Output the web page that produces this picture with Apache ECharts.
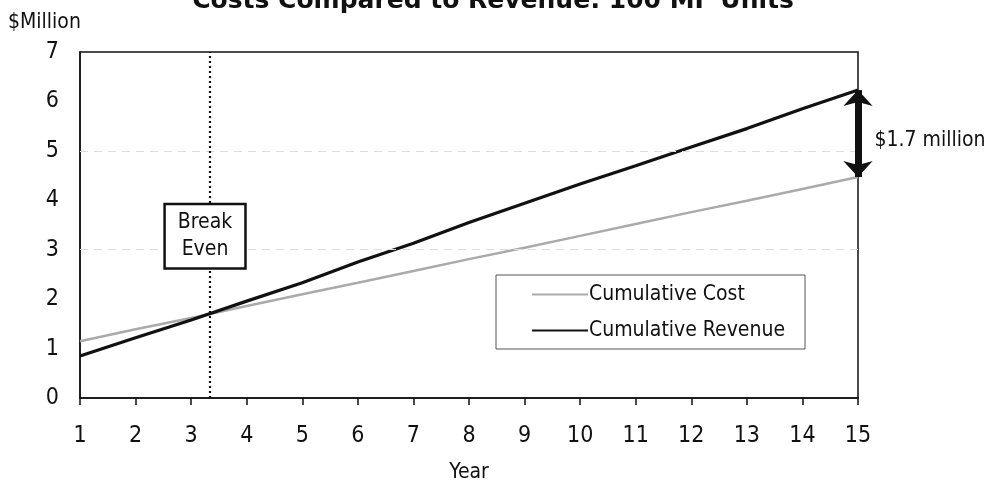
<!DOCTYPE html>
<html><head><meta charset="utf-8">
<script src="https://cdn.jsdelivr.net/npm/echarts@6/dist/echarts.min.js"></script>
<style>html,body{margin:0;padding:0;background:#fff}#c{width:991px;height:483px}</style>
</head><body><div id="c"></div>
<script>
const years = [1,2,3,4,5,6,7,8,9,10,11,12,13,14,15];
const cumulativeCost = [1.15,1.39,1.62,1.86,2.10,2.33,2.57,2.81,3.04,3.28,3.52,3.76,3.99,4.23,4.47];
const cumulativeRevenue = [0.85,1.22,1.58,1.96,2.33,2.75,3.13,3.55,3.94,4.33,4.70,5.08,5.45,5.85,6.23];
const yTicks = [0,1,2,3,4,5,6,7];
const breakEvenYear = 3.33;
const gapLabel = '$1.7 million';

const F = '"DejaVu Sans Condensed", "Liberation Sans", sans-serif';
const FB = '"DejaVu Sans", sans-serif';
const chart = echarts.init(document.getElementById('c'));
const costPts = years.map((y,i)=>[y,cumulativeCost[i]]);
const revPts = years.map((y,i)=>[y,cumulativeRevenue[i]]);
const last = years.length-1;
const lastYear = years[last];

chart.setOption({
  animation:false,
  backgroundColor:'#fff',
  title:{text:'Costs Compared to Revenue: 100 MF Units',left:488,textAlign:'center',top:-16,
    textStyle:{fontFamily:FB,fontSize:25,fontWeight:'bold',color:'#111'}},
  grid:{left:80,right:133,top:52,bottom:85,outerBoundsMode:'none',containLabel:false,
    show:true,borderColor:'#111',borderWidth:1.5,backgroundColor:'transparent'},
  legend:{orient:'vertical',left:496,top:275,width:315,height:75,
    padding:[9,20,8,36],itemGap:15,itemWidth:56,itemHeight:14,
    borderColor:'#555',borderWidth:1,backgroundColor:'#fff',
    icon:'path://M0,6L56,6L56,8L0,8Z',
    textStyle:{fontFamily:F,fontSize:21,color:'#111',padding:[0,0,0,-4]},
    data:[{name:'Cumulative Cost',itemStyle:{color:'#aaa'}},{name:'Cumulative Revenue',itemStyle:{color:'#111'}}]},
  xAxis:{type:'value',min:1,max:15,interval:1,name:'Year',nameLocation:'middle',nameGap:64,
    nameTextStyle:{fontFamily:F,fontSize:21,color:'#111'},
    axisLine:{lineStyle:{color:'#111',width:1.5}},
    axisTick:{show:true,length:7,lineStyle:{color:'#111',width:1.5}},
    axisLabel:{fontFamily:F,fontSize:23,color:'#111',margin:27},
    splitLine:{show:false}},
  yAxis:{type:'value',min:0,max:7,interval:1,name:'$Million',nameLocation:'end',
    nameGap:19,nameTextStyle:{fontFamily:F,fontSize:21,color:'#111',align:'left',padding:[0,0,0,-72]},
    axisLine:{show:true,lineStyle:{color:'#111',width:1.5}},axisTick:{show:false},
    axisLabel:{fontFamily:F,fontSize:23,color:'#111',margin:21,
      formatter:v=>yTicks.includes(v)?String(v):''},
    splitLine:{show:false}},
  series:[
    {name:'Cumulative Cost',type:'line',data:costPts,symbol:'none',z:3,
      lineStyle:{color:'#aaa',width:2.5},itemStyle:{color:'#aaa'},
      markLine:{silent:true,symbol:'none',label:{show:false},
        lineStyle:{color:'#ddd',width:1,type:[8,6]},
        data:[{yAxis:3},{yAxis:5}]}},
    {name:'Cumulative Revenue',type:'line',data:revPts,symbol:'none',z:4,
      lineStyle:{color:'#111',width:3.2},itemStyle:{color:'#111'},
      markLine:{silent:true,symbol:'none',label:{show:false},
        lineStyle:{color:'#111',width:2.2,type:[2,3]},
        data:[{xAxis:breakEvenYear}]},
      markPoint:{silent:true,symbol:'rect',symbolSize:1,itemStyle:{color:'transparent'},
        data:[{coord:[3.25,3.27],value:'Break\nEven',
          label:{show:true,formatter:'Break\nEven',fontFamily:F,fontSize:21,color:'#111',lineHeight:27,
            backgroundColor:'#fff',borderColor:'#111',borderWidth:2.5,padding:[5,12,3,12],align:'center',verticalAlign:'middle'}}]}},
    {name:'gap',type:'line',data:[],symbol:'none',
      markLine:{silent:true,symbol:['arrow','arrow'],symbolSize:[22,16],
        lineStyle:{color:'#111',width:7,type:'solid'},
        label:{show:false},
        data:[[{coord:[lastYear,cumulativeRevenue[last]]},{coord:[lastYear,cumulativeCost[last]]}]]},
      markPoint:{silent:true,symbol:'rect',symbolSize:1,itemStyle:{color:'transparent'},
        data:[{coord:[lastYear,(cumulativeRevenue[last]+cumulativeCost[last])/2],
          label:{show:true,position:'right',distance:16,offset:[0,7],formatter:gapLabel,fontFamily:F,fontSize:21,color:'#111'}}]}}
  ]
});
</script></body></html>
